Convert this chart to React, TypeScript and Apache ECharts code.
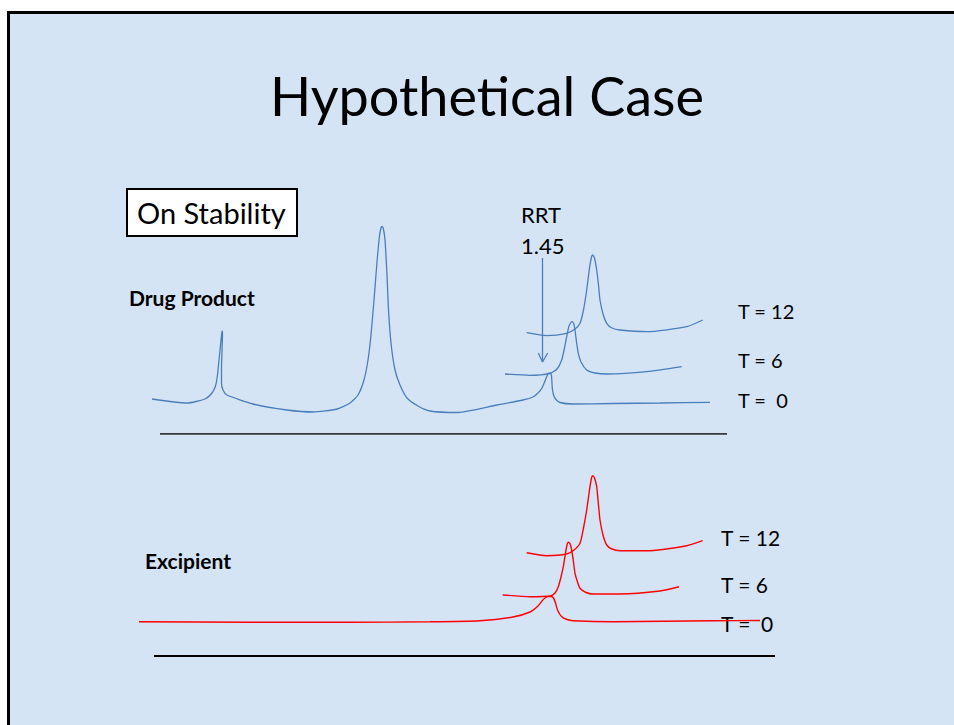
import React, { useEffect, useRef } from "react";
import * as echarts from "echarts";

type P = [number, number];

// Retention time (min) vs. detector response (offset traces, arbitrary units)
const drugT0: P[] = [
  [1.2, 35], [4.7, 31], [6.5, 35], [7.2, 41], [7.55, 48], [7.75, 59], [7.9, 74], [8.05, 89],
  [8.18, 101], [8.23, 103], [8.25, 99], [8.2, 84], [8.15, 64], [8.15, 51], [8.3, 44], [8.7, 39],
  [11.3, 30], [14.7, 24], [17.3, 22], [19.7, 25], [21.0, 31], [21.8, 39], [22.4, 54], [22.8, 74],
  [23.1, 99], [23.4, 134], [23.7, 172], [23.95, 198], [24.1, 206], [24.2, 207.5], [24.32, 206],
  [24.5, 194], [24.7, 159], [24.85, 124], [25.1, 91], [25.5, 64], [26.0, 49], [26.7, 36],
  [27.8, 28], [29.0, 23], [31.7, 21.5], [35.7, 29], [38.3, 34], [39.3, 37], [39.8, 41], [40.2, 46],
  [40.5, 53], [40.7, 58], [40.85, 60.5], [41.0, 61], [41.13, 59.5], [41.18, 54], [41.23, 46],
  [41.35, 39], [41.6, 34.5], [42.0, 31.5], [43.3, 30], [47.3, 30.5], [52.0, 31], [57.0, 31.7],
];
const drugT6: P[] = [
  [36.5, 60], [39.0, 58.7], [41.0, 60.7], [41.7, 65], [42.17, 74], [42.45, 86], [42.67, 97.3],
  [42.9, 108], [43.17, 112.3], [43.35, 111], [43.5, 104], [43.65, 92], [43.83, 80.7], [44.1, 72],
  [44.67, 64], [45.5, 61], [46.67, 60], [50.67, 62.3], [54.17, 67.3],
];
const drugT12: P[] = [
  [38.67, 101.3], [40.67, 98.3], [42.67, 100.7], [43.5, 105], [44.0, 110.7], [44.35, 124],
  [44.67, 144], [44.95, 166], [45.15, 177], [45.27, 179], [45.45, 176], [45.67, 164], [45.85, 149],
  [46.0, 134], [46.3, 120], [46.67, 110.7], [47.2, 106], [48.0, 104], [50.67, 102.3],
  [54.67, 107.3], [56.27, 114],
];
const rrtArrow: P[] = [[40.25, 176], [40.25, 72]];
const rrtArrowHead: P[] = [[39.83, 81], [40.25, 72], [40.77, 81]];
const drugAxis: P[] = [[2.0, 0], [58.7, 0]];

const excT0: P[] = [
  [-0.1, 34.3], [11.0, 33.7], [21.0, 33.7], [29.0, 34.2], [34.0, 35.3], [37.3, 39], [39.0, 44],
  [39.8, 50], [40.2, 55], [40.5, 58], [40.8, 59.5], [41.1, 59.5], [41.35, 58], [41.55, 53],
  [41.75, 46], [42.15, 39.5], [42.7, 36.5], [43.3, 35.3], [47.3, 34.3], [57.3, 35.3], [62.0, 35.5],
];
const excT6: P[] = [
  [36.27, 61], [39.0, 59.3], [41.0, 60], [41.5, 63], [41.83, 69.3], [42.1, 79], [42.33, 89.3],
  [42.55, 103], [42.7, 111], [42.83, 113.7], [43.0, 112.5], [43.17, 106], [43.35, 94], [43.5, 82.7],
  [43.75, 74], [44.0, 67.7], [44.6, 63.5], [45.33, 62], [48.0, 62], [52.0, 65], [53.9, 69.3],
];
const excT12: P[] = [
  [38.67, 103.3], [40.67, 100.3], [42.67, 102], [43.4, 106], [44.0, 112.7], [44.35, 128],
  [44.67, 146], [44.95, 166], [45.15, 178], [45.27, 180.3], [45.45, 178], [45.67, 169.3],
  [45.83, 153], [46.0, 136], [46.3, 121], [46.67, 111], [47.2, 107], [48.0, 105.3],
  [50.67, 105.3], [54.67, 110.3], [56.27, 115.3],
];
const excAxis: P[] = [[1.4, 0], [63.5, 0]];

const titleText = "Hypothetical Case";
const boxText = "On Stability";
const drugLabel = "Drug Product";
const excLabel = "Excipient";
const rrtLines = ["RRT", "1.45"];
const traceLabels = ["T = 12", "T = 6", "T =  0"];

const FONT = "Lato, 'Liberation Sans', sans-serif";
const BLUE = "#4a7ebb";
const RED = "#ff0000";

export default function App() {
  const ref = useRef<HTMLDivElement>(null);
  useEffect(() => {
    document.body.style.margin = "0";
    document.body.style.overflow = "hidden";
    const chart = echarts.init(ref.current!, null, { renderer: "svg" });
    const line = (data: P[], color: string, idx: number, width = 1.3, z = 3) => ({
      type: "line",
      data,
      xAxisIndex: idx,
      yAxisIndex: idx,
      showSymbol: false,
      symbol: "none",
      smooth: 0.2,
      lineStyle: { color, width },
      silent: true,
      z,
    });
    const straight = (data: P[], color: string, idx: number, width: number) => ({
      ...line(data, color, idx, width),
      smooth: false,
    });
    const txt = (text: string, x: number, y: number, size: number, weight: string | number = "normal", align = "left") => ({
      type: "text",
      x,
      y,
      z: 1,
      style: {
        text,
        fill: "#000",
        font: `${weight} ${size}px ${FONT}`,
        align,
        verticalAlign: "middle",
      },
    });
    chart.setOption({
      animation: false,
      grid: [
        { left: 120, top: 134, width: 700, height: 300 },
        { left: 120, top: 356, width: 700, height: 300 },
      ],
      xAxis: [
        { type: "value", min: -2, max: 68, show: false, gridIndex: 0 },
        { type: "value", min: -2, max: 68, show: false, gridIndex: 1 },
      ],
      yAxis: [
        { type: "value", min: 0, max: 300, show: false, gridIndex: 0 },
        { type: "value", min: 0, max: 300, show: false, gridIndex: 1 },
      ],
      graphic: [
        {
          type: "rect",
          z: -10,
          shape: { x: 8.5, y: 12.5, width: 945.5, height: 712.5 },
          style: { fill: "#d4e4f5" },
        },
        {
          type: "line",
          z: -9,
          shape: { x1: 8.5, y1: 11, x2: 8.5, y2: 725 },
          style: { stroke: "#000", lineWidth: 3 },
        },
        {
          type: "line",
          z: -9,
          shape: { x1: 7, y1: 12.5, x2: 954, y2: 12.5 },
          style: { stroke: "#000", lineWidth: 3 },
        },
        {
          type: "rect",
          z: 0,
          shape: { x: 127, y: 189, width: 170, height: 47 },
          style: { fill: "#fff", stroke: "#000", lineWidth: 2 },
        },
        txt(titleText, 487, 95, 54, "normal", "center"),
        txt(boxText, 137, 212, 29),
        txt(drugLabel, 129, 297, 21, "bold"),
        txt(excLabel, 145, 560, 21, "bold"),
        txt(rrtLines[0], 521, 214, 22),
        txt(rrtLines[1], 521, 245, 22),
        txt(traceLabels[0], 738, 311, 20),
        txt(traceLabels[1], 738, 360, 20),
        txt(traceLabels[2], 738, 400, 20),
        txt(traceLabels[0], 721, 537, 21),
        txt(traceLabels[1], 721, 584, 21),
        txt(traceLabels[2], 721, 623, 21),
      ],
      series: [
        line(drugT0, BLUE, 0),
        line(drugT6, BLUE, 0),
        line(drugT12, BLUE, 0),
        straight(rrtArrow, BLUE, 0, 1.3),
        straight(rrtArrowHead, BLUE, 0, 1.3),
        straight(drugAxis, "#000", 0, 1.5),
        line(excT0, RED, 1, 1.4),
        line(excT6, RED, 1, 1.4),
        line(excT12, RED, 1, 1.4),
        straight(excAxis, "#000", 1, 2),
      ],
    });
    return () => chart.dispose();
  }, []);
  return (
    <div
      ref={ref}
      style={{ position: "absolute", left: 0, top: 0, width: 954, height: 725, background: "#fff" }}
    />
  );
}
